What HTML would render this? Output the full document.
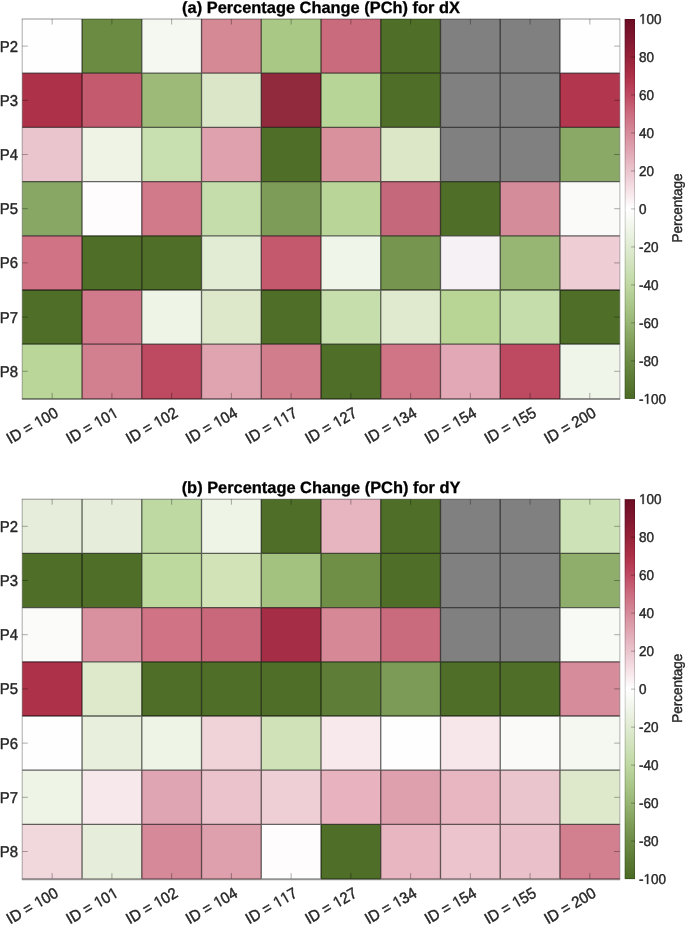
<!DOCTYPE html>
<html><head><meta charset="utf-8"><style>
html,body{margin:0;padding:0;background:#fff;width:685px;height:925px;overflow:hidden}
svg{display:block;will-change:transform}
text{font-family:"Liberation Sans",sans-serif;fill:#262626;text-rendering:geometricPrecision;stroke:#262626;stroke-width:0.4px}
text{font-kerning:none}
.one{fill:#262626;stroke:#262626;stroke-width:0.4px;vector-effect:non-scaling-stroke}
text.t{stroke:#000;stroke-width:0.3px}
</style></head><body>
<svg width="685" height="925" viewBox="0 0 685 925">
<defs><linearGradient id="cb" x1="0" y1="0" x2="0" y2="1">
<stop offset="0" stop-color="#6b0d22"/>
<stop offset="0.05" stop-color="#801630"/>
<stop offset="0.1" stop-color="#962238"/>
<stop offset="0.15" stop-color="#ad3048"/>
<stop offset="0.2" stop-color="#bf4a62"/>
<stop offset="0.25" stop-color="#cc6c80"/>
<stop offset="0.3" stop-color="#d68b9b"/>
<stop offset="0.35" stop-color="#e0a8b4"/>
<stop offset="0.4" stop-color="#ebc5ce"/>
<stop offset="0.45" stop-color="#f5e2e7"/>
<stop offset="0.5" stop-color="#ffffff"/>
<stop offset="0.55" stop-color="#f0f5ea"/>
<stop offset="0.6" stop-color="#e0ebd2"/>
<stop offset="0.65" stop-color="#d0e2bb"/>
<stop offset="0.7" stop-color="#bfd8a2"/>
<stop offset="0.75" stop-color="#abc88a"/>
<stop offset="0.8" stop-color="#97b573"/>
<stop offset="0.85" stop-color="#80a05b"/>
<stop offset="0.9" stop-color="#6c8c46"/>
<stop offset="0.95" stop-color="#5b7b35"/>
<stop offset="1" stop-color="#4b6b25"/>
</linearGradient></defs>
<rect x="22.3" y="19" width="59.79" height="54.25" fill="#fefefe"/>
<rect x="82.04" y="19" width="59.79" height="54.25" fill="#6b8b42"/>
<rect x="141.78" y="19" width="59.79" height="54.25" fill="#f5f8f1"/>
<rect x="201.52" y="19" width="59.79" height="54.25" fill="#d48995"/>
<rect x="261.26" y="19" width="59.79" height="54.25" fill="#a9c785"/>
<rect x="321" y="19" width="59.79" height="54.25" fill="#c96b7c"/>
<rect x="380.74" y="19" width="59.79" height="54.25" fill="#4f6e28"/>
<rect x="440.48" y="19" width="59.79" height="54.25" fill="#808080"/>
<rect x="500.22" y="19" width="59.79" height="54.25" fill="#808080"/>
<rect x="559.96" y="19" width="59.79" height="54.25" fill="#fefefe"/>
<rect x="22.3" y="73.2" width="59.79" height="54.25" fill="#ad3249"/>
<rect x="82.04" y="73.2" width="59.79" height="54.25" fill="#c35a6d"/>
<rect x="141.78" y="73.2" width="59.79" height="54.25" fill="#9dba78"/>
<rect x="201.52" y="73.2" width="59.79" height="54.25" fill="#dbe6c8"/>
<rect x="261.26" y="73.2" width="59.79" height="54.25" fill="#922a3e"/>
<rect x="321" y="73.2" width="59.79" height="54.25" fill="#b7d596"/>
<rect x="380.74" y="73.2" width="59.79" height="54.25" fill="#4f6e28"/>
<rect x="440.48" y="73.2" width="59.79" height="54.25" fill="#808080"/>
<rect x="500.22" y="73.2" width="59.79" height="54.25" fill="#808080"/>
<rect x="559.96" y="73.2" width="59.79" height="54.25" fill="#b1364e"/>
<rect x="22.3" y="127.4" width="59.79" height="54.25" fill="#ebc5ce"/>
<rect x="82.04" y="127.4" width="59.79" height="54.25" fill="#eef3e6"/>
<rect x="141.78" y="127.4" width="59.79" height="54.25" fill="#c8dfb0"/>
<rect x="201.52" y="127.4" width="59.79" height="54.25" fill="#dea1ad"/>
<rect x="261.26" y="127.4" width="59.79" height="54.25" fill="#4f6e28"/>
<rect x="321" y="127.4" width="59.79" height="54.25" fill="#d9919e"/>
<rect x="380.74" y="127.4" width="59.79" height="54.25" fill="#dce7c8"/>
<rect x="440.48" y="127.4" width="59.79" height="54.25" fill="#808080"/>
<rect x="500.22" y="127.4" width="59.79" height="54.25" fill="#808080"/>
<rect x="559.96" y="127.4" width="59.79" height="54.25" fill="#8aa866"/>
<rect x="22.3" y="181.6" width="59.79" height="54.25" fill="#88a764"/>
<rect x="82.04" y="181.6" width="59.79" height="54.25" fill="#fefcfd"/>
<rect x="141.78" y="181.6" width="59.79" height="54.25" fill="#d17a8a"/>
<rect x="201.52" y="181.6" width="59.79" height="54.25" fill="#c4ddab"/>
<rect x="261.26" y="181.6" width="59.79" height="54.25" fill="#7d9c57"/>
<rect x="321" y="181.6" width="59.79" height="54.25" fill="#b9d597"/>
<rect x="380.74" y="181.6" width="59.79" height="54.25" fill="#c5687b"/>
<rect x="440.48" y="181.6" width="59.79" height="54.25" fill="#4f6e28"/>
<rect x="500.22" y="181.6" width="59.79" height="54.25" fill="#d48c9b"/>
<rect x="559.96" y="181.6" width="59.79" height="54.25" fill="#fafbf8"/>
<rect x="22.3" y="235.8" width="59.79" height="54.25" fill="#d07485"/>
<rect x="82.04" y="235.8" width="59.79" height="54.25" fill="#4f6e28"/>
<rect x="141.78" y="235.8" width="59.79" height="54.25" fill="#4f6e28"/>
<rect x="201.52" y="235.8" width="59.79" height="54.25" fill="#e2ecd5"/>
<rect x="261.26" y="235.8" width="59.79" height="54.25" fill="#c4586c"/>
<rect x="321" y="235.8" width="59.79" height="54.25" fill="#f0f5ea"/>
<rect x="380.74" y="235.8" width="59.79" height="54.25" fill="#76964f"/>
<rect x="440.48" y="235.8" width="59.79" height="54.25" fill="#f6f1f4"/>
<rect x="500.22" y="235.8" width="59.79" height="54.25" fill="#97b573"/>
<rect x="559.96" y="235.8" width="59.79" height="54.25" fill="#eecdd5"/>
<rect x="22.3" y="290" width="59.79" height="54.25" fill="#4f6e28"/>
<rect x="82.04" y="290" width="59.79" height="54.25" fill="#d17a8b"/>
<rect x="141.78" y="290" width="59.79" height="54.25" fill="#eef4e6"/>
<rect x="201.52" y="290" width="59.79" height="54.25" fill="#dde7ca"/>
<rect x="261.26" y="290" width="59.79" height="54.25" fill="#4f6e28"/>
<rect x="321" y="290" width="59.79" height="54.25" fill="#c6ddac"/>
<rect x="380.74" y="290" width="59.79" height="54.25" fill="#e0eacf"/>
<rect x="440.48" y="290" width="59.79" height="54.25" fill="#b8d596"/>
<rect x="500.22" y="290" width="59.79" height="54.25" fill="#c4ddab"/>
<rect x="559.96" y="290" width="59.79" height="54.25" fill="#4f6e28"/>
<rect x="22.3" y="344.2" width="59.79" height="54.85" fill="#bad698"/>
<rect x="82.04" y="344.2" width="59.79" height="54.85" fill="#d27f8f"/>
<rect x="141.78" y="344.2" width="59.79" height="54.85" fill="#bd4a61"/>
<rect x="201.52" y="344.2" width="59.79" height="54.85" fill="#e0a3b0"/>
<rect x="261.26" y="344.2" width="59.79" height="54.85" fill="#d17d8c"/>
<rect x="321" y="344.2" width="59.79" height="54.85" fill="#4f6e28"/>
<rect x="380.74" y="344.2" width="59.79" height="54.85" fill="#d07586"/>
<rect x="440.48" y="344.2" width="59.79" height="54.85" fill="#e2a8b5"/>
<rect x="500.22" y="344.2" width="59.79" height="54.85" fill="#bd4a61"/>
<rect x="559.96" y="344.2" width="59.79" height="54.85" fill="#f0f5ea"/>
<path d="M82.04 19V398.4M141.78 19V398.4M201.52 19V398.4M261.26 19V398.4M321 19V398.4M380.74 19V398.4M440.48 19V398.4M500.22 19V398.4M559.96 19V398.4M22.3 73.2H619.7M22.3 127.4H619.7M22.3 181.6H619.7M22.3 235.8H619.7M22.3 290H619.7M22.3 344.2H619.7" stroke="#000" stroke-opacity="0.6" stroke-width="1.3" fill="none"/>
<path d="M21.8 19H620.2" stroke="#000" stroke-opacity="0.42" stroke-width="1"/>
<path d="M22.2 19V398.4" stroke="#000" stroke-opacity="0.33" stroke-width="1"/>
<path d="M619.9 19V398.4" stroke="#000" stroke-opacity="0.3" stroke-width="1"/>
<path d="M21.8 399H620.2" stroke="#000" stroke-opacity="0.42" stroke-width="2"/>
<path d="M52.17 19v5.5M52.17 398.4v-5.5M111.91 19v5.5M111.91 398.4v-5.5M171.65 19v5.5M171.65 398.4v-5.5M231.39 19v5.5M231.39 398.4v-5.5M291.13 19v5.5M291.13 398.4v-5.5M350.87 19v5.5M350.87 398.4v-5.5M410.61 19v5.5M410.61 398.4v-5.5M470.35 19v5.5M470.35 398.4v-5.5M530.09 19v5.5M530.09 398.4v-5.5M589.83 19v5.5M589.83 398.4v-5.5M22.3 46.1h5.5M619.7 46.1h-5.5M22.3 100.3h5.5M619.7 100.3h-5.5M22.3 154.5h5.5M619.7 154.5h-5.5M22.3 208.7h5.5M619.7 208.7h-5.5M22.3 262.9h5.5M619.7 262.9h-5.5M22.3 317.1h5.5M619.7 317.1h-5.5M22.3 371.3h5.5M619.7 371.3h-5.5" stroke="#000" stroke-opacity="0.32" stroke-width="1" fill="none"/>
<rect x="624.7" y="19" width="10.3" height="379.9" fill="url(#cb)"/>
<rect x="625.2" y="19.5" width="9.3" height="378.9" fill="none" stroke="#000" stroke-opacity="0.18" stroke-width="1"/>
<path d="M635 56.99h-4M635 94.98h-4M635 132.97h-4M635 170.96h-4M635 208.95h-4M635 246.94h-4M635 284.93h-4M635 322.92h-4M635 360.91h-4" stroke="#000" stroke-opacity="0.3" stroke-width="1" fill="none"/>
<g transform="translate(638.9 23.8) scale(1 1.05)"><text x="0" y="0" font-size="13.5"> 00</text><path d="M550 0L550 1237L232 1010L232 1180L565 1409L731 1409L731 0Z" transform="translate(0 0) scale(0.006592 -0.006592)" class="one"/></g>
<g transform="translate(638.9 61.79) scale(1 1.05)"><text x="0" y="0" font-size="13.5">80</text></g>
<g transform="translate(638.9 99.78) scale(1 1.05)"><text x="0" y="0" font-size="13.5">60</text></g>
<g transform="translate(638.9 137.77) scale(1 1.05)"><text x="0" y="0" font-size="13.5">40</text></g>
<g transform="translate(638.9 175.76) scale(1 1.05)"><text x="0" y="0" font-size="13.5">20</text></g>
<g transform="translate(638.9 213.75) scale(1 1.05)"><text x="0" y="0" font-size="13.5">0</text></g>
<g transform="translate(638.9 251.74) scale(1 1.05)"><text x="0" y="0" font-size="13.5">-20</text></g>
<g transform="translate(638.9 289.73) scale(1 1.05)"><text x="0" y="0" font-size="13.5">-40</text></g>
<g transform="translate(638.9 327.72) scale(1 1.05)"><text x="0" y="0" font-size="13.5">-60</text></g>
<g transform="translate(638.9 365.71) scale(1 1.05)"><text x="0" y="0" font-size="13.5">-80</text></g>
<g transform="translate(638.9 403.7) scale(1 1.05)"><text x="0" y="0" font-size="13.5">- 00</text><path d="M550 0L550 1237L232 1010L232 1180L565 1409L731 1409L731 0Z" transform="translate(4.5 0) scale(0.006592 -0.006592)" class="one"/></g>
<text transform="translate(681.7 208) rotate(-90) scale(1 1.05)" text-anchor="middle" font-size="13.5">Percentage</text>
<text transform="translate(18.05 51.6) scale(1 1.05)" text-anchor="end" font-size="14.9">P2</text>
<text transform="translate(18.05 105.8) scale(1 1.05)" text-anchor="end" font-size="14.9">P3</text>
<text transform="translate(18.05 160) scale(1 1.05)" text-anchor="end" font-size="14.9">P4</text>
<text transform="translate(18.05 214.2) scale(1 1.05)" text-anchor="end" font-size="14.9">P5</text>
<text transform="translate(18.05 268.4) scale(1 1.05)" text-anchor="end" font-size="14.9">P6</text>
<text transform="translate(18.05 322.6) scale(1 1.05)" text-anchor="end" font-size="14.9">P7</text>
<text transform="translate(18.05 376.8) scale(1 1.05)" text-anchor="end" font-size="14.9">P8</text>
<g transform="translate(59.47 415.9) rotate(-30) scale(1 1.05)"><text x="-56.74" y="0" font-size="14.9">ID =  00</text><path d="M550 0L550 1237L232 1010L232 1180L565 1409L731 1409L731 0Z" transform="translate(-24.86 0) scale(0.007275 -0.007275)" class="one"/></g>
<g transform="translate(119.21 415.9) rotate(-30) scale(1 1.05)"><text x="-56.74" y="0" font-size="14.9">ID =  0 </text><path d="M550 0L550 1237L232 1010L232 1180L565 1409L731 1409L731 0Z" transform="translate(-24.86 0) scale(0.007275 -0.007275)" class="one"/><path d="M550 0L550 1237L232 1010L232 1180L565 1409L731 1409L731 0Z" transform="translate(-8.29 0) scale(0.007275 -0.007275)" class="one"/></g>
<g transform="translate(178.95 415.9) rotate(-30) scale(1 1.05)"><text x="-56.74" y="0" font-size="14.9">ID =  02</text><path d="M550 0L550 1237L232 1010L232 1180L565 1409L731 1409L731 0Z" transform="translate(-24.86 0) scale(0.007275 -0.007275)" class="one"/></g>
<g transform="translate(238.69 415.9) rotate(-30) scale(1 1.05)"><text x="-56.74" y="0" font-size="14.9">ID =  04</text><path d="M550 0L550 1237L232 1010L232 1180L565 1409L731 1409L731 0Z" transform="translate(-24.86 0) scale(0.007275 -0.007275)" class="one"/></g>
<g transform="translate(298.43 415.9) rotate(-30) scale(1 1.05)"><text x="-56.74" y="0" font-size="14.9">ID =   7</text><path d="M550 0L550 1237L232 1010L232 1180L565 1409L731 1409L731 0Z" transform="translate(-24.86 0) scale(0.007275 -0.007275)" class="one"/><path d="M550 0L550 1237L232 1010L232 1180L565 1409L731 1409L731 0Z" transform="translate(-16.57 0) scale(0.007275 -0.007275)" class="one"/></g>
<g transform="translate(358.17 415.9) rotate(-30) scale(1 1.05)"><text x="-56.74" y="0" font-size="14.9">ID =  27</text><path d="M550 0L550 1237L232 1010L232 1180L565 1409L731 1409L731 0Z" transform="translate(-24.86 0) scale(0.007275 -0.007275)" class="one"/></g>
<g transform="translate(417.91 415.9) rotate(-30) scale(1 1.05)"><text x="-56.74" y="0" font-size="14.9">ID =  34</text><path d="M550 0L550 1237L232 1010L232 1180L565 1409L731 1409L731 0Z" transform="translate(-24.86 0) scale(0.007275 -0.007275)" class="one"/></g>
<g transform="translate(477.65 415.9) rotate(-30) scale(1 1.05)"><text x="-56.74" y="0" font-size="14.9">ID =  54</text><path d="M550 0L550 1237L232 1010L232 1180L565 1409L731 1409L731 0Z" transform="translate(-24.86 0) scale(0.007275 -0.007275)" class="one"/></g>
<g transform="translate(537.39 415.9) rotate(-30) scale(1 1.05)"><text x="-56.74" y="0" font-size="14.9">ID =  55</text><path d="M550 0L550 1237L232 1010L232 1180L565 1409L731 1409L731 0Z" transform="translate(-24.86 0) scale(0.007275 -0.007275)" class="one"/></g>
<g transform="translate(597.13 415.9) rotate(-30) scale(1 1.05)"><text x="-56.74" y="0" font-size="14.9">ID = 200</text></g>
<text x="321" y="13" text-anchor="middle" font-size="16.4" font-weight="bold" class="t" style="fill:#000">(a) Percentage Change (PCh) for dX</text>
<rect x="22.3" y="499.2" width="59.79" height="54.25" fill="#e6eedb"/>
<rect x="82.04" y="499.2" width="59.79" height="54.25" fill="#e6eedb"/>
<rect x="141.78" y="499.2" width="59.79" height="54.25" fill="#bed9a1"/>
<rect x="201.52" y="499.2" width="59.79" height="54.25" fill="#eef4e6"/>
<rect x="261.26" y="499.2" width="59.79" height="54.25" fill="#4f6e28"/>
<rect x="321" y="499.2" width="59.79" height="54.25" fill="#e6b5c0"/>
<rect x="380.74" y="499.2" width="59.79" height="54.25" fill="#4f6e28"/>
<rect x="440.48" y="499.2" width="59.79" height="54.25" fill="#808080"/>
<rect x="500.22" y="499.2" width="59.79" height="54.25" fill="#808080"/>
<rect x="559.96" y="499.2" width="59.79" height="54.25" fill="#cde2b6"/>
<rect x="22.3" y="553.4" width="59.79" height="54.25" fill="#4f6e28"/>
<rect x="82.04" y="553.4" width="59.79" height="54.25" fill="#4f6e28"/>
<rect x="141.78" y="553.4" width="59.79" height="54.25" fill="#bed99e"/>
<rect x="201.52" y="553.4" width="59.79" height="54.25" fill="#d2e3b8"/>
<rect x="261.26" y="553.4" width="59.79" height="54.25" fill="#a4c27f"/>
<rect x="321" y="553.4" width="59.79" height="54.25" fill="#6f8f47"/>
<rect x="380.74" y="553.4" width="59.79" height="54.25" fill="#4f6e28"/>
<rect x="440.48" y="553.4" width="59.79" height="54.25" fill="#808080"/>
<rect x="500.22" y="553.4" width="59.79" height="54.25" fill="#808080"/>
<rect x="559.96" y="553.4" width="59.79" height="54.25" fill="#8fae6b"/>
<rect x="22.3" y="607.6" width="59.79" height="54.25" fill="#fbfbf9"/>
<rect x="82.04" y="607.6" width="59.79" height="54.25" fill="#d9919f"/>
<rect x="141.78" y="607.6" width="59.79" height="54.25" fill="#d07485"/>
<rect x="201.52" y="607.6" width="59.79" height="54.25" fill="#c8687a"/>
<rect x="261.26" y="607.6" width="59.79" height="54.25" fill="#a52d45"/>
<rect x="321" y="607.6" width="59.79" height="54.25" fill="#d68896"/>
<rect x="380.74" y="607.6" width="59.79" height="54.25" fill="#c96b7d"/>
<rect x="440.48" y="607.6" width="59.79" height="54.25" fill="#808080"/>
<rect x="500.22" y="607.6" width="59.79" height="54.25" fill="#808080"/>
<rect x="559.96" y="607.6" width="59.79" height="54.25" fill="#f8faf5"/>
<rect x="22.3" y="661.8" width="59.79" height="54.25" fill="#ad3249"/>
<rect x="82.04" y="661.8" width="59.79" height="54.25" fill="#dee9cc"/>
<rect x="141.78" y="661.8" width="59.79" height="54.25" fill="#4f6e28"/>
<rect x="201.52" y="661.8" width="59.79" height="54.25" fill="#4f6e28"/>
<rect x="261.26" y="661.8" width="59.79" height="54.25" fill="#4f6e28"/>
<rect x="321" y="661.8" width="59.79" height="54.25" fill="#5e7e37"/>
<rect x="380.74" y="661.8" width="59.79" height="54.25" fill="#7c9b56"/>
<rect x="440.48" y="661.8" width="59.79" height="54.25" fill="#4f6e28"/>
<rect x="500.22" y="661.8" width="59.79" height="54.25" fill="#4f6e28"/>
<rect x="559.96" y="661.8" width="59.79" height="54.25" fill="#d78c9b"/>
<rect x="22.3" y="716" width="59.79" height="54.25" fill="#fefefe"/>
<rect x="82.04" y="716" width="59.79" height="54.25" fill="#e8efdd"/>
<rect x="141.78" y="716" width="59.79" height="54.25" fill="#eef4e6"/>
<rect x="201.52" y="716" width="59.79" height="54.25" fill="#efd3d9"/>
<rect x="261.26" y="716" width="59.79" height="54.25" fill="#cfe2b8"/>
<rect x="321" y="716" width="59.79" height="54.25" fill="#f7e9ec"/>
<rect x="380.74" y="716" width="59.79" height="54.25" fill="#fefefe"/>
<rect x="440.48" y="716" width="59.79" height="54.25" fill="#f7e7eb"/>
<rect x="500.22" y="716" width="59.79" height="54.25" fill="#fafaf8"/>
<rect x="559.96" y="716" width="59.79" height="54.25" fill="#f5f8f1"/>
<rect x="22.3" y="770.2" width="59.79" height="54.25" fill="#eef4e6"/>
<rect x="82.04" y="770.2" width="59.79" height="54.25" fill="#f7e8ec"/>
<rect x="141.78" y="770.2" width="59.79" height="54.25" fill="#e0a5b2"/>
<rect x="201.52" y="770.2" width="59.79" height="54.25" fill="#ebc3cc"/>
<rect x="261.26" y="770.2" width="59.79" height="54.25" fill="#efcfd6"/>
<rect x="321" y="770.2" width="59.79" height="54.25" fill="#e8b2be"/>
<rect x="380.74" y="770.2" width="59.79" height="54.25" fill="#dea0ad"/>
<rect x="440.48" y="770.2" width="59.79" height="54.25" fill="#e8b6c1"/>
<rect x="500.22" y="770.2" width="59.79" height="54.25" fill="#ebc5ce"/>
<rect x="559.96" y="770.2" width="59.79" height="54.25" fill="#dee9cc"/>
<rect x="22.3" y="824.4" width="59.79" height="54.85" fill="#f1d8dd"/>
<rect x="82.04" y="824.4" width="59.79" height="54.85" fill="#e6eedb"/>
<rect x="141.78" y="824.4" width="59.79" height="54.85" fill="#d68a99"/>
<rect x="201.52" y="824.4" width="59.79" height="54.85" fill="#dea0ad"/>
<rect x="261.26" y="824.4" width="59.79" height="54.85" fill="#fefcfd"/>
<rect x="321" y="824.4" width="59.79" height="54.85" fill="#4f6e28"/>
<rect x="380.74" y="824.4" width="59.79" height="54.85" fill="#e8b6c0"/>
<rect x="440.48" y="824.4" width="59.79" height="54.85" fill="#ebc4cd"/>
<rect x="500.22" y="824.4" width="59.79" height="54.85" fill="#eac1ca"/>
<rect x="559.96" y="824.4" width="59.79" height="54.85" fill="#d27f8f"/>
<path d="M82.04 499.2V878.6M141.78 499.2V878.6M201.52 499.2V878.6M261.26 499.2V878.6M321 499.2V878.6M380.74 499.2V878.6M440.48 499.2V878.6M500.22 499.2V878.6M559.96 499.2V878.6M22.3 553.4H619.7M22.3 607.6H619.7M22.3 661.8H619.7M22.3 716H619.7M22.3 770.2H619.7M22.3 824.4H619.7" stroke="#000" stroke-opacity="0.6" stroke-width="1.3" fill="none"/>
<path d="M21.8 499.2H620.2" stroke="#000" stroke-opacity="0.42" stroke-width="1"/>
<path d="M22.2 499.2V878.6" stroke="#000" stroke-opacity="0.33" stroke-width="1"/>
<path d="M619.9 499.2V878.6" stroke="#000" stroke-opacity="0.3" stroke-width="1"/>
<path d="M21.8 879.2H620.2" stroke="#000" stroke-opacity="0.42" stroke-width="2"/>
<path d="M52.17 499.2v5.5M52.17 878.6v-5.5M111.91 499.2v5.5M111.91 878.6v-5.5M171.65 499.2v5.5M171.65 878.6v-5.5M231.39 499.2v5.5M231.39 878.6v-5.5M291.13 499.2v5.5M291.13 878.6v-5.5M350.87 499.2v5.5M350.87 878.6v-5.5M410.61 499.2v5.5M410.61 878.6v-5.5M470.35 499.2v5.5M470.35 878.6v-5.5M530.09 499.2v5.5M530.09 878.6v-5.5M589.83 499.2v5.5M589.83 878.6v-5.5M22.3 526.3h5.5M619.7 526.3h-5.5M22.3 580.5h5.5M619.7 580.5h-5.5M22.3 634.7h5.5M619.7 634.7h-5.5M22.3 688.9h5.5M619.7 688.9h-5.5M22.3 743.1h5.5M619.7 743.1h-5.5M22.3 797.3h5.5M619.7 797.3h-5.5M22.3 851.5h5.5M619.7 851.5h-5.5" stroke="#000" stroke-opacity="0.32" stroke-width="1" fill="none"/>
<rect x="624.7" y="499.2" width="10.3" height="379.9" fill="url(#cb)"/>
<rect x="625.2" y="499.7" width="9.3" height="378.9" fill="none" stroke="#000" stroke-opacity="0.18" stroke-width="1"/>
<path d="M635 537.19h-4M635 575.18h-4M635 613.17h-4M635 651.16h-4M635 689.15h-4M635 727.14h-4M635 765.13h-4M635 803.12h-4M635 841.11h-4" stroke="#000" stroke-opacity="0.3" stroke-width="1" fill="none"/>
<g transform="translate(638.9 504) scale(1 1.05)"><text x="0" y="0" font-size="13.5"> 00</text><path d="M550 0L550 1237L232 1010L232 1180L565 1409L731 1409L731 0Z" transform="translate(0 0) scale(0.006592 -0.006592)" class="one"/></g>
<g transform="translate(638.9 541.99) scale(1 1.05)"><text x="0" y="0" font-size="13.5">80</text></g>
<g transform="translate(638.9 579.98) scale(1 1.05)"><text x="0" y="0" font-size="13.5">60</text></g>
<g transform="translate(638.9 617.97) scale(1 1.05)"><text x="0" y="0" font-size="13.5">40</text></g>
<g transform="translate(638.9 655.96) scale(1 1.05)"><text x="0" y="0" font-size="13.5">20</text></g>
<g transform="translate(638.9 693.95) scale(1 1.05)"><text x="0" y="0" font-size="13.5">0</text></g>
<g transform="translate(638.9 731.94) scale(1 1.05)"><text x="0" y="0" font-size="13.5">-20</text></g>
<g transform="translate(638.9 769.93) scale(1 1.05)"><text x="0" y="0" font-size="13.5">-40</text></g>
<g transform="translate(638.9 807.92) scale(1 1.05)"><text x="0" y="0" font-size="13.5">-60</text></g>
<g transform="translate(638.9 845.91) scale(1 1.05)"><text x="0" y="0" font-size="13.5">-80</text></g>
<g transform="translate(638.9 883.9) scale(1 1.05)"><text x="0" y="0" font-size="13.5">- 00</text><path d="M550 0L550 1237L232 1010L232 1180L565 1409L731 1409L731 0Z" transform="translate(4.5 0) scale(0.006592 -0.006592)" class="one"/></g>
<text transform="translate(681.7 688.2) rotate(-90) scale(1 1.05)" text-anchor="middle" font-size="13.5">Percentage</text>
<text transform="translate(18.05 531.8) scale(1 1.05)" text-anchor="end" font-size="14.9">P2</text>
<text transform="translate(18.05 586) scale(1 1.05)" text-anchor="end" font-size="14.9">P3</text>
<text transform="translate(18.05 640.2) scale(1 1.05)" text-anchor="end" font-size="14.9">P4</text>
<text transform="translate(18.05 694.4) scale(1 1.05)" text-anchor="end" font-size="14.9">P5</text>
<text transform="translate(18.05 748.6) scale(1 1.05)" text-anchor="end" font-size="14.9">P6</text>
<text transform="translate(18.05 802.8) scale(1 1.05)" text-anchor="end" font-size="14.9">P7</text>
<text transform="translate(18.05 857) scale(1 1.05)" text-anchor="end" font-size="14.9">P8</text>
<g transform="translate(59.47 896.1) rotate(-30) scale(1 1.05)"><text x="-56.74" y="0" font-size="14.9">ID =  00</text><path d="M550 0L550 1237L232 1010L232 1180L565 1409L731 1409L731 0Z" transform="translate(-24.86 0) scale(0.007275 -0.007275)" class="one"/></g>
<g transform="translate(119.21 896.1) rotate(-30) scale(1 1.05)"><text x="-56.74" y="0" font-size="14.9">ID =  0 </text><path d="M550 0L550 1237L232 1010L232 1180L565 1409L731 1409L731 0Z" transform="translate(-24.86 0) scale(0.007275 -0.007275)" class="one"/><path d="M550 0L550 1237L232 1010L232 1180L565 1409L731 1409L731 0Z" transform="translate(-8.29 0) scale(0.007275 -0.007275)" class="one"/></g>
<g transform="translate(178.95 896.1) rotate(-30) scale(1 1.05)"><text x="-56.74" y="0" font-size="14.9">ID =  02</text><path d="M550 0L550 1237L232 1010L232 1180L565 1409L731 1409L731 0Z" transform="translate(-24.86 0) scale(0.007275 -0.007275)" class="one"/></g>
<g transform="translate(238.69 896.1) rotate(-30) scale(1 1.05)"><text x="-56.74" y="0" font-size="14.9">ID =  04</text><path d="M550 0L550 1237L232 1010L232 1180L565 1409L731 1409L731 0Z" transform="translate(-24.86 0) scale(0.007275 -0.007275)" class="one"/></g>
<g transform="translate(298.43 896.1) rotate(-30) scale(1 1.05)"><text x="-56.74" y="0" font-size="14.9">ID =   7</text><path d="M550 0L550 1237L232 1010L232 1180L565 1409L731 1409L731 0Z" transform="translate(-24.86 0) scale(0.007275 -0.007275)" class="one"/><path d="M550 0L550 1237L232 1010L232 1180L565 1409L731 1409L731 0Z" transform="translate(-16.57 0) scale(0.007275 -0.007275)" class="one"/></g>
<g transform="translate(358.17 896.1) rotate(-30) scale(1 1.05)"><text x="-56.74" y="0" font-size="14.9">ID =  27</text><path d="M550 0L550 1237L232 1010L232 1180L565 1409L731 1409L731 0Z" transform="translate(-24.86 0) scale(0.007275 -0.007275)" class="one"/></g>
<g transform="translate(417.91 896.1) rotate(-30) scale(1 1.05)"><text x="-56.74" y="0" font-size="14.9">ID =  34</text><path d="M550 0L550 1237L232 1010L232 1180L565 1409L731 1409L731 0Z" transform="translate(-24.86 0) scale(0.007275 -0.007275)" class="one"/></g>
<g transform="translate(477.65 896.1) rotate(-30) scale(1 1.05)"><text x="-56.74" y="0" font-size="14.9">ID =  54</text><path d="M550 0L550 1237L232 1010L232 1180L565 1409L731 1409L731 0Z" transform="translate(-24.86 0) scale(0.007275 -0.007275)" class="one"/></g>
<g transform="translate(537.39 896.1) rotate(-30) scale(1 1.05)"><text x="-56.74" y="0" font-size="14.9">ID =  55</text><path d="M550 0L550 1237L232 1010L232 1180L565 1409L731 1409L731 0Z" transform="translate(-24.86 0) scale(0.007275 -0.007275)" class="one"/></g>
<g transform="translate(597.13 896.1) rotate(-30) scale(1 1.05)"><text x="-56.74" y="0" font-size="14.9">ID = 200</text></g>
<text x="321" y="493.2" text-anchor="middle" font-size="16.4" font-weight="bold" class="t" style="fill:#000">(b) Percentage Change (PCh) for dY</text>
</svg></body></html>
